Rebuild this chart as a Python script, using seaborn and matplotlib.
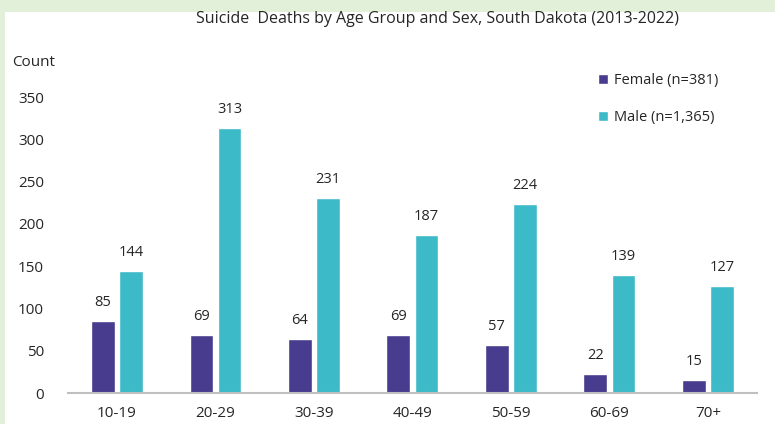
import matplotlib
matplotlib.use("Agg")
import matplotlib.pyplot as plt
import matplotlib.patches as mpatches
import seaborn as sns
import pandas as pd

sns.set_style("white")
plt.rcParams["font.family"] = ["Open Sans", "DejaVu Sans"]

age_groups = ["10-19", "20-29", "30-39", "40-49", "50-59", "60-69", "70+"]
female = [85, 69, 64, 69, 57, 22, 15]
male = [144, 313, 231, 187, 224, 139, 127]
series = ["Female (n=381)", "Male (n=1,365)"]
colors = ["#483C8E", "#3CBAC8"]

df = pd.DataFrame({
    "age": age_groups * 2,
    "count": female + male,
    "sex": [series[0]] * len(female) + [series[1]] * len(male),
})

fig = plt.figure(figsize=(7.75, 4.24), dpi=100)
fig.patch.set_facecolor("#E2F0D9")
# white panel inside the green frame
fig.patches.append(mpatches.Rectangle((5 / 775, 0), 1, 1 - 12 / 424,
                                      transform=fig.transFigure,
                                      facecolor="white", edgecolor="none", zorder=-1))

ax = fig.add_axes([0.0874, 0.0731, 0.977 - 0.0874, 0.771 - 0.0731])
ax.set_zorder(2)
ax.set_facecolor("none")
sns.barplot(data=df, x="age", y="count", hue="sex", palette=colors,
            width=0.57, gap=0.15, ax=ax, saturation=1)

for cont in ax.containers:
    ax.bar_label(cont, padding=8, fontsize=10.5, color="#262626")

ax.set_ylim(0, 350)
ax.set_yticks(range(0, 351, 50))
ax.set_xlabel("")
ax.set_ylabel("")
ax.tick_params(axis="y", length=0, pad=17, labelsize=11, labelcolor="#262626")
ax.tick_params(axis="x", length=0, pad=9, labelsize=11, labelcolor="#262626")
for s in ["top", "right", "left"]:
    ax.spines[s].set_visible(False)
ax.spines["bottom"].set_color("#BFBFBF")
ax.spines["bottom"].set_linewidth(1.5)

leg = ax.legend(frameon=False, loc="upper left", bbox_to_anchor=(0.75, 1.125),
                fontsize=10.5, handlelength=0.7, handleheight=0.7,
                handletextpad=0.4, labelspacing=1.5)
for t in leg.get_texts():
    t.set_color("#262626")

fig.text(437 / 775, 1 - 19 / 424, "Suicide  Deaths by Age Group and Sex, South Dakota (2013-2022)",
         ha="center", va="center", fontsize=11.5, color="#262626")
fig.text(12 / 775, 1 - 62 / 424, "Count", ha="left", va="center",
         fontsize=11, color="#262626")

fig.savefig("out.png", dpi=100)
